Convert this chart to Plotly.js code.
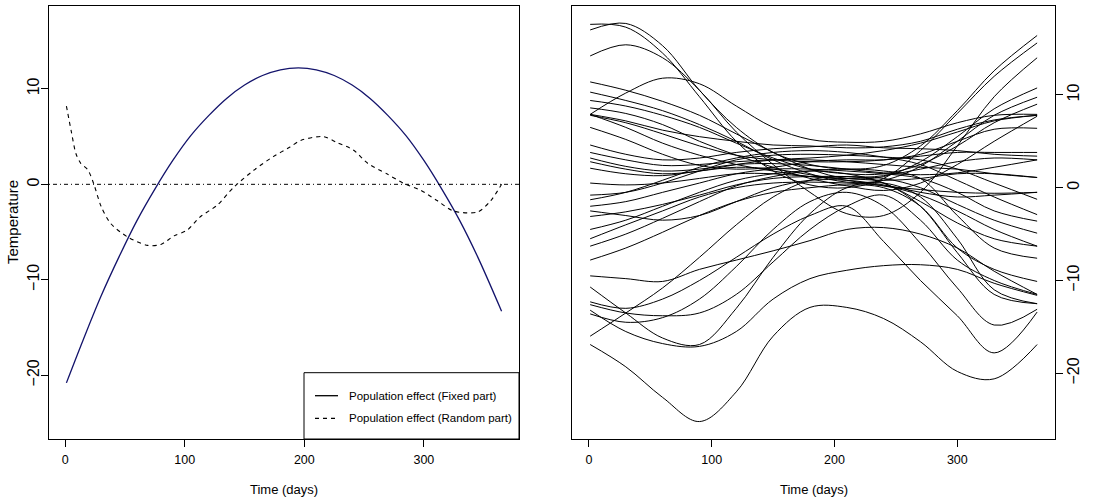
<!DOCTYPE html>
<html>
<head>
<meta charset="utf-8">
<script src="https://cdn.plot.ly/plotly-3.0.1.min.js"></script>
<style>
html,body{margin:0;padding:0;background:#fff;}
#chart{width:1105px;height:501px;}
</style>
</head>
<body>
<div id="chart"></div>
<script>
// ---------- Left panel: population effect ----------
const fixedDays = [1, 15, 30, 45, 60, 75, 90, 105, 120, 135, 150, 165, 180, 195, 210, 225, 240, 255, 270, 285, 300, 315, 330, 345, 365];
const fixedTemp = [-20.8, -16.3, -11.7, -7.6, -3.8, -0.5, 2.5, 5.1, 7.2, 9.0, 10.4, 11.4, 12.0, 12.2, 12.0, 11.4, 10.4, 9.0, 7.2, 5.1, 2.5, -0.5, -3.8, -7.6, -13.3];

const randomDays = [1, 5, 9, 13, 19, 24, 30, 38, 52, 69, 80, 91, 102, 113, 127, 141, 158, 174, 188, 197, 216, 227, 241, 253, 269, 283, 297, 311, 325, 345, 356, 365];
const randomTemp = [8.2, 5.6, 3.2, 2.2, 1.5, 0.0, -2.3, -4.1, -5.5, -6.4, -6.3, -5.4, -4.8, -3.4, -2.2, -0.3, 1.5, 2.9, 3.9, 4.6, 5.0, 4.4, 3.6, 2.2, 1.1, 0.1, -0.6, -1.7, -2.8, -2.9, -1.7, 0.0];

const legendLabels = ["Population effect (Fixed part)", "Population effect (Random part)"];

// ---------- Right panel: station-specific curves ----------
const stationDays = [1, 30, 60, 90, 120, 150, 180, 210, 240, 270, 300, 330, 365];
const st01 = [17.0, 17.7, 15.3, 10.5, 6.5, 3.8, 2.5, 2.0, 2.4, 4.5, 8.3, 12.6, 16.4];
const st02 = [17.6, 17.3, 14.5, 9.8, 5.0, 1.8, 0.3, 0.0, 1.0, 4.0, 8.0, 12.0, 15.6];
const st03 = [14.2, 15.4, 14.0, 10.5, 6.0, 2.5, -0.5, -2.8, -3.0, -0.5, 4.5, 9.8, 14.0];
const st04 = [7.9, 10.2, 11.8, 11.2, 8.8, 6.5, 5.2, 4.9, 5.0, 5.8, 7.0, 7.8, 7.9];
const st05 = [11.4, 10.5, 9.3, 7.8, 5.8, 3.8, 2.0, 1.0, 1.2, 2.8, 5.5, 8.5, 10.75];
const st06 = [10.3, 9.4, 8.3, 6.8, 5.0, 3.0, 1.5, 0.6, 0.8, 2.3, 5.0, 7.8, 9.75];
const st07 = [9.4, 8.8, 7.8, 6.5, 4.8, 3.2, 2.0, 1.5, 1.5, 2.5, 4.5, 7.0, 9.0];
const st08 = [8.6, 8.0, 6.8, 5.0, 3.5, 2.2, 1.0, 0.2, -0.3, 0.5, 2.5, 5.0, 7.7];
const st09 = [7.9, 7.2, 6.2, 5.5, 5.0, 4.6, 4.5, 4.3, 4.4, 5.0, 6.3, 7.3, 7.8];
const st10 = [7.8, 7.0, 5.8, 4.5, 3.5, 3.0, 2.8, 2.8, 3.0, 3.6, 5.0, 6.3, 6.4];
const st11 = [6.5, 5.2, 3.6, 2.4, 2.0, 2.2, 2.8, 3.0, 3.0, 3.4, 3.8, 3.8, 3.8];
const st12 = [4.6, 3.6, 3.0, 3.2, 3.8, 4.2, 4.4, 4.6, 4.3, 4.2, 4.0, 3.6, 3.4];
const st13 = [3.8, 3.0, 2.4, 2.5, 2.8, 3.0, 3.0, 2.8, 2.5, 2.2, 2.0, 1.5, 1.1];
const st14 = [3.2, 2.3, 1.8, 2.0, 2.5, 2.6, 2.4, 2.0, 1.6, 1.4, 1.6, 2.2, 3.0];
const st15 = [2.1, 1.5, 1.3, 1.8, 2.2, 2.0, 1.4, 0.8, 0.2, -0.2, -0.5, -0.6, -0.5];
const st16 = [-0.8, -0.5, 0.5, 1.8, 3.0, 3.5, 3.6, 3.5, 3.3, 3.0, 2.0, 0.5, -1.25];
const st17 = [-1.3, -0.5, 0.8, 2.2, 3.2, 3.8, 4.0, 3.8, 3.3, 2.5, 0.8, -1.0, -2.9];
const st18 = [-2.0, -1.5, -0.5, 0.5, 1.5, 2.0, 2.0, 1.8, 1.5, 1.0, -0.5, -2.5, -3.6];
const st19 = [-3.1, -2.6, -1.8, -0.8, 0.3, 1.0, 1.2, 1.2, 1.0, 0.0, -1.8, -3.5, -4.9];
const st20 = [-4.5, -3.5, -2.0, -0.5, 0.8, 1.5, 1.8, 1.5, 0.5, -1.5, -3.8, -5.5, -6.3];
const st21 = [-6.3, -5.0, -3.3, -1.5, 0.2, 1.2, 1.8, 2.0, 1.8, 1.0, -3.0, -6.5, -7.6];
const st22 = [-7.8, -6.5, -4.8, -3.0, -1.5, -0.5, 0.0, 0.3, 0.0, -2.0, -6.5, -8.8, -10.1];
const st23 = [-9.5, -9.8, -10.1, -8.8, -7.8, -6.8, -5.7, -4.5, -4.3, -5.0, -6.5, -9.0, -11.5];
const st24 = [-13.2, -15.5, -16.8, -17.1, -15.5, -12.0, -9.8, -8.9, -8.4, -8.3, -8.8, -10.3, -11.6];
const st25 = [-10.7, -13.5, -16.2, -16.9, -13.0, -7.5, -2.8, 0.0, 0.5, -1.0, -5.5, -11.0, -12.5];
const st26 = [-12.3, -13.0, -12.0, -10.0, -7.5, -5.0, -3.0, -2.0, -5.8, -10.0, -13.8, -17.8, -13.4];
const st27 = [-12.6, -13.5, -13.8, -13.5, -11.5, -8.0, -4.5, -2.0, -0.8, -3.5, -7.8, -10.0, -11.5];
const st28 = [-13.6, -14.5, -14.0, -12.0, -8.5, -4.5, -1.5, -0.5, -2.0, -6.0, -10.8, -14.8, -13.1];
const st29 = [-16.0, -13.5, -10.8, -7.5, -4.0, -1.0, 0.8, 1.2, 0.5, -2.0, -7.0, -11.5, -12.5];
const st30 = [-16.9, -19.3, -22.6, -25.2, -22.0, -16.0, -12.9, -12.9, -14.1, -16.6, -19.8, -20.6, -16.9];
const st31 = [2.8, 2.0, 1.5, 1.8, 2.5, 3.0, 3.2, 3.5, 4.0, 4.8, 6.0, 7.2, 7.8];
const st32 = [7.9, 6.5, 4.8, 3.5, 2.5, 1.8, 1.2, 1.0, 1.3, 2.0, 2.8, 3.2, 3.0];
const st33 = [-5.5, -4.0, -2.5, -1.0, 0.0, 0.5, 0.6, 0.5, 0.2, -0.8, -2.5, -4.5, -6.3];
const st34 = [0.5, 0.3, 0.5, 1.0, 1.5, 1.5, 1.2, 1.0, 0.8, 1.0, 1.5, 1.5, 1.1];
const st35 = [-2.5, -3.0, -3.5, -3.0, -1.5, 0.0, 0.8, 0.8, 0.3, -0.5, -1.0, -0.8, -0.5];

const stationCurves = [st01, st02, st03, st04, st05, st06, st07, st08, st09, st10,
  st11, st12, st13, st14, st15, st16, st17, st18, st19, st20,
  st21, st22, st23, st24, st25, st26, st27, st28, st29, st30,
  st31, st32, st33, st34, st35];

const xTicks = [0, 100, 200, 300];
const yTicks = [-20, -10, 0, 10];

// ---------- Traces ----------
const traces = [];
traces.push({
  x: fixedDays, y: fixedTemp, xaxis: 'x', yaxis: 'y', type: 'scatter', mode: 'lines',
  line: {color: '#13136b', width: 1.3, shape: 'spline', smoothing: 1}, showlegend: false, hoverinfo: 'skip'
});
traces.push({
  x: randomDays, y: randomTemp, xaxis: 'x', yaxis: 'y', type: 'scatter', mode: 'lines',
  line: {color: '#000', width: 1.1, dash: '4px,4px', shape: 'spline', smoothing: 0.8}, showlegend: false, hoverinfo: 'skip'
});
stationCurves.forEach(function (vals) {
  traces.push({
    x: stationDays, y: vals, xaxis: 'x2', yaxis: 'y2', type: 'scatter', mode: 'lines',
    line: {color: '#000', width: 1, shape: 'spline', smoothing: 1}, showlegend: false, hoverinfo: 'skip'
  });
});

const W = 1105, H = 501;
const px = v => v / W;
const py = v => 1 - v / H;

const FAM = 'Liberation Sans, Arial, sans-serif';
const tickFontX = {family: FAM, size: 12.5, color: '#000'};
const tickFontY = {family: FAM, size: 16, color: '#000'};
const legendFont = {family: FAM, size: 11.5, color: '#000'};
const xTitleFont = {family: FAM, size: 13, color: '#000'};

const axCommon = {
  showgrid: false, zeroline: false, showline: true, mirror: true,
  linecolor: '#000', linewidth: 1, ticks: 'outside', ticklen: 7, tickwidth: 1, tickcolor: '#000'
};

const layout = {
  width: W, height: H,
  margin: {l: 0, r: 0, t: 0, b: 0},
  paper_bgcolor: '#fff', plot_bgcolor: '#fff',
  showlegend: false,
  xaxis: Object.assign({}, axCommon, {
    domain: [px(49), px(519)], range: [-13.56, 379.56], tickvals: xTicks, tickfont: tickFontX, anchor: 'y',
    ticklabelstandoff: 2
  }),
  yaxis: Object.assign({}, axCommon, {
    domain: [62 / H, 495 / H], range: [-26.68, 18.68], tickvals: yTicks, tickangle: -90, tickfont: tickFontY, anchor: 'x',
    ticklabelstandoff: -4
  }),
  xaxis2: Object.assign({}, axCommon, {
    domain: [px(572.3), px(1055)], range: [-13.56, 379.56], tickvals: xTicks, tickfont: tickFontX, anchor: 'y2',
    ticklabelstandoff: 2
  }),
  yaxis2: Object.assign({}, axCommon, {
    domain: [62 / H, 495 / H], range: [-27.08, 19.58], tickvals: yTicks, tickangle: -90, tickfont: tickFontY,
    anchor: 'x2', side: 'right', ticklabelstandoff: -3
  }),
  shapes: [
    // zero reference line (left panel)
    {type: 'line', xref: 'x domain', yref: 'y', x0: 0, x1: 1, y0: 0, y1: 0,
     line: {color: '#000', width: 1, dash: '1px,3px,4px,3px'}},
    // legend box
    {type: 'rect', xref: 'paper', yref: 'paper', x0: px(304), x1: px(519), y0: py(439), y1: py(372.7),
     line: {color: '#000', width: 1}, fillcolor: '#fff'},
    {type: 'line', xref: 'paper', yref: 'paper', x0: px(315), x1: px(338), y0: py(395.7), y1: py(395.7),
     line: {color: '#000', width: 1.3}},
    {type: 'line', xref: 'paper', yref: 'paper', x0: px(315), x1: px(338), y0: py(418.3), y1: py(418.3),
     line: {color: '#000', width: 1.3, dash: '4px,4px'}}
  ],
  annotations: [
    {text: legendLabels[0], xref: 'paper', yref: 'paper', x: px(347), y: py(395.7), xanchor: 'left', yanchor: 'middle',
     showarrow: false, font: legendFont},
    {text: legendLabels[1], xref: 'paper', yref: 'paper', x: px(347), y: py(418.3), xanchor: 'left', yanchor: 'middle',
     showarrow: false, font: legendFont},
    {text: 'Time (days)', xref: 'paper', yref: 'paper', x: px(284), y: py(489), xanchor: 'center', yanchor: 'middle',
     showarrow: false, font: xTitleFont},
    {text: 'Time (days)', xref: 'paper', yref: 'paper', x: px(813.6), y: py(489), xanchor: 'center', yanchor: 'middle',
     showarrow: false, font: xTitleFont},
    {text: 'Temperature', xref: 'paper', yref: 'paper', x: px(13), y: py(222), xanchor: 'center', yanchor: 'middle',
     textangle: -90, showarrow: false, font: {family: FAM, size: 15, color: '#000'}}
  ]
};

Plotly.newPlot('chart', traces, layout, {displayModeBar: false, staticPlot: true});
</script>
</body>
</html>
